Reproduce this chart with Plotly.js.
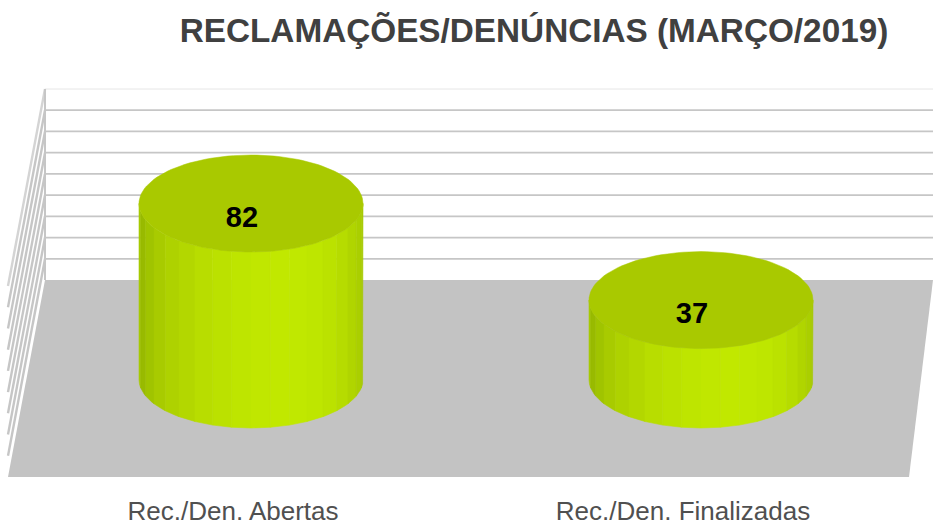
<!DOCTYPE html>
<html>
<head>
<meta charset="utf-8">
<script src="https://cdn.plot.ly/plotly-3.0.1.min.js"></script>
<style>html,body{margin:0;padding:0;background:#fff}#chart{width:933px;height:524px}</style>
</head>
<body>
<div id="chart"></div>
<script>
var categories = ["Rec./Den. Abertas", "Rec./Den. Finalizadas"];
var values = [82, 37];
var gridValues = [10, 20, 30, 40, 50, 60, 70, 80, 90];
var stripColors = ["#a6ca00","#98ba00","#a0c400","#a8cb00","#aed200","#b3d700","#b8dd00","#bbe100","#bee500",
                   "#c0e700","#c1e800","#c0e800","#bee600","#bbe200","#b6dc00","#b0d500","#aacf00","#a6ca00"];
var topColor = "#a9c900";
var floorColor = "#c3c3c3";
var gridColor = "#c6c6c6";
var titleText = "RECLAMAÇÕES/DENÚNCIAS (MARÇO/2019)";

// scales (px in the 933x524 frame -> axis units)
var W = 933, H = 524, plotBottom = 493;
var catStep = 450, cat0 = 251, unit = 2.146, base = 379.5;
var xRange = [-cat0 / catStep, (W - cat0) / catStep];
var yRange = [(base - plotBottom) / unit, base / unit];
function X(px) { return (px - cat0) / catStep; }
function Y(px) { return (base - px) / unit; }

var rx = 112 / catStep, ry = 48.5 / unit;
var traces = [];

// back-wall scale
function wallPx(v) { return 280 - v * (191 / 90); }

// grid lines: side wall
gridValues.forEach(function (v) {
  var p = wallPx(v);
  traces.push({type:"scatter", mode:"lines", line:{width:2.4, color:v === 90 ? "#d4d4d4" : gridColor},
    x:[X(8),X(45)], y:[Y(p + 197),Y(p)], hoverinfo:"skip"});
});
// floor
traces.push({type:"scatter", mode:"lines", fill:"toself", fillcolor:floorColor, line:{width:0, color:floorColor},
  x:[X(45),X(W),X(909),X(8),X(45)], y:[Y(280),Y(280),Y(477),Y(477),Y(280)], hoverinfo:"skip"});

// grid lines: back wall
gridValues.forEach(function (v) {
  var p = wallPx(v);
  traces.push({type:"scatter", mode:"lines", line:{width:v === 90 ? 1 : 1.8, color:v === 90 ? "#e6e6e6" : gridColor},
    x:[X(45),X(W)], y:[Y(p),Y(p)], hoverinfo:"skip"});
});
traces.push({type:"scatter", mode:"lines", line:{width:2, color:gridColor},
  x:[X(45),X(45)], y:[Y(89),Y(280)], hoverinfo:"skip"});

// cylinders
var N = stripColors.length;
values.forEach(function (val, c) {
  for (var i = 0; i < N; i++) {
    var xs = [], ys = [], k, a;
    for (k = 0; k <= 4; k++) {            // top edge, left to right
      a = Math.PI - Math.PI * (i + k / 4) / N;
      xs.push(c + rx * Math.cos(a)); ys.push(val - ry * Math.sin(a));
    }
    for (k = 4; k >= 0; k--) {            // bottom edge, right to left
      a = Math.PI - Math.PI * (i + k / 4) / N;
      xs.push(c + rx * Math.cos(a)); ys.push(-ry * Math.sin(a));
    }
    xs.push(xs[0]); ys.push(ys[0]);
    traces.push({type:"scatter", mode:"lines", fill:"toself", fillcolor:stripColors[i],
      line:{width:0.6, color:stripColors[i]}, x:xs, y:ys, hoverinfo:"skip"});
  }
  var ex = [], ey = [];
  for (var j = 0; j <= 120; j++) {
    var t = 2 * Math.PI * j / 120;
    ex.push(c + rx * Math.cos(t)); ey.push(val + ry * Math.sin(t));
  }
  traces.push({type:"scatter", mode:"lines", fill:"toself", fillcolor:topColor,
    line:{width:0.5, color:topColor}, x:ex, y:ey, hoverinfo:"skip"});
});

// data labels
traces.push({type:"scatter", mode:"text", x:values.map(function (v, i) { return i - 9 / catStep; }),
  y:values.map(function (v) { return v - 16 / unit; }), text:values.map(String), textposition:"middle center",
  textfont:{family:"Liberation Sans", size:29, color:"#000000", weight:700}, hoverinfo:"skip"});

var layout = {
  width:W, height:H, showlegend:false, paper_bgcolor:"#ffffff", plot_bgcolor:"#ffffff",
  margin:{l:0, r:0, t:0, b:H - plotBottom, pad:0},
  title:{text:"<b>" + titleText + "</b>", x:534 / W, xanchor:"center", y:1 - 30 / H, yanchor:"middle",
    font:{family:"Liberation Sans", size:33.3, color:"#404040"}},
  xaxis:{range:xRange, tickvals:[-0.04, 0.96], ticktext:categories, showgrid:false, zeroline:false, showline:false,
    ticks:"", tickfont:{family:"Liberation Sans", size:26, color:"#505050"}, fixedrange:true},
  yaxis:{range:yRange, visible:false, fixedrange:true}
};
Plotly.newPlot("chart", traces, layout, {staticPlot:true, displayModeBar:false});
</script>
</body>
</html>
